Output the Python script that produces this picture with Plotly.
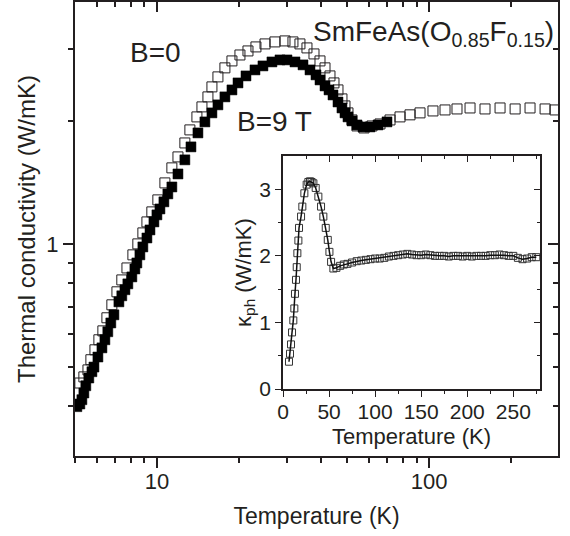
import plotly.graph_objects as go

# ---------------- data ----------------
# main panel, B = 0 (open squares)
T_B0 = [5.21, 5.39, 5.58, 5.72, 5.92, 6.12, 6.33, 6.55, 6.83, 7.13, 7.43, 7.76, 8.16, 8.51, 8.88,
        9.19, 9.58, 10.08, 10.70, 11.35, 11.95, 12.67, 13.22, 14.03, 14.64, 15.40, 15.93, 16.76,
        17.78, 18.87, 20.19, 21.61, 23.12, 24.96, 27.15, 29.56, 31.62, 33.55, 35.60, 37.78, 39.75,
        41.47, 43.25, 44.74, 46.28, 47.87, 49.11, 50.37, 52.11, 54.36, 57.68, 61.71, 66.05, 71.89,
        78.23, 85.14, 92.67, 103.4, 114.5, 126.7, 141.5, 160.6, 182.4, 207.2, 235.1, 267.0, 290.5]
k_B0 = [0.456, 0.472, 0.491, 0.520, 0.550, 0.582, 0.612, 0.659, 0.709, 0.763, 0.816, 0.873, 0.940,
        1.000, 1.064, 1.132, 1.198, 1.282, 1.411, 1.536, 1.634, 1.768, 1.903, 2.048, 2.167, 2.293,
        2.426, 2.567, 2.701, 2.809, 2.905, 2.972, 3.040, 3.092, 3.127, 3.145, 3.127, 3.092, 3.023,
        2.922, 2.809, 2.701, 2.581, 2.481, 2.385, 2.267, 2.179, 2.095, 2.013, 1.946, 1.924, 1.946,
        1.968, 2.013, 2.048, 2.072, 2.095, 2.118, 2.130, 2.142, 2.154, 2.142, 2.154, 2.142, 2.154,
        2.142, 2.130]

# main panel, B = 9 T (filled squares)
T_B9 = [5.08, 5.21, 5.30, 5.39, 5.48, 5.62, 5.77, 5.87, 6.07, 6.28, 6.44, 6.60, 6.77, 6.95, 7.25,
        7.43, 7.63, 7.82, 8.09, 8.30, 8.44, 8.66, 8.88, 9.19, 9.43, 9.75, 10.0, 10.26, 10.61, 10.97,
        11.35, 11.95, 12.67, 13.34, 14.15, 15.01, 15.93, 16.76, 17.78, 18.87, 19.86, 21.25, 22.93,
        24.53, 26.47, 28.33, 30.06, 32.17, 34.43, 36.52, 38.42, 39.75, 41.47, 42.90, 44.37, 46.28,
        47.87, 49.11, 50.37, 52.11, 54.36, 57.20, 60.68, 64.94, 70.07]
k_B9 = [0.399, 0.405, 0.415, 0.431, 0.449, 0.469, 0.486, 0.499, 0.528, 0.556, 0.582, 0.609, 0.640,
        0.670, 0.721, 0.746, 0.772, 0.798, 0.830, 0.868, 0.898, 0.940, 0.983, 1.034, 1.082, 1.132,
        1.178, 1.218, 1.268, 1.326, 1.379, 1.484, 1.607, 1.729, 1.871, 1.991, 2.095, 2.192, 2.293,
        2.385, 2.481, 2.581, 2.670, 2.731, 2.793, 2.825, 2.825, 2.793, 2.747, 2.670, 2.596, 2.523,
        2.439, 2.385, 2.318, 2.228, 2.154, 2.095, 2.048, 2.002, 1.957, 1.935, 1.935, 1.957, 1.991]

# inset: phonon thermal conductivity (linear axes)
inset_T = [6.5, 7.6, 8.7, 9.8, 11.2, 12.3, 13.0, 14.1, 14.9, 15.6, 16.7, 17.4, 19.6, 21.0, 23.2,
           25.7, 27.5, 29.3, 31.0, 33.0, 35.5, 38.4, 41.3, 43.8, 46.4, 48.6, 50.4, 52.2, 54.7,
           58, 62, 66, 70, 75, 80, 85, 90, 95, 100, 105, 110, 115, 120, 125, 130, 135, 140, 145,
           150, 155, 160, 165, 170, 175, 180, 185, 190, 195, 200, 205, 210, 215, 220, 225, 230,
           235, 240, 245, 250, 255, 260, 265, 270, 275]
inset_k = [0.41, 0.53, 0.67, 0.85, 1.03, 1.21, 1.43, 1.64, 1.83, 2.04, 2.23, 2.42, 2.59, 2.74, 2.94,
           3.07, 3.11, 3.12, 3.11, 3.09, 3.02, 2.89, 2.74, 2.59, 2.42, 2.24, 2.06, 1.91, 1.81,
           1.82, 1.85, 1.87, 1.88, 1.90, 1.92, 1.93, 1.94, 1.95, 1.96, 1.96, 1.97, 1.99, 2.00, 2.01,
           2.02, 2.03, 2.02, 2.01, 2.01, 2.02, 2.01, 2.00, 2.00, 2.00, 1.99, 2.00, 2.00, 1.99, 2.00,
           1.99, 2.00, 2.00, 2.00, 2.01, 2.01, 2.02, 2.01, 2.00, 2.00, 1.97, 1.95, 1.96, 1.98, 1.98]

# tick values
x_major = [10, 100]
x_minor = [5, 6, 7, 8, 9, 20, 30, 40, 50, 60, 70, 80, 90, 200, 300]
y_major = [1]
y_minor = [0.3, 0.4, 0.5, 0.6, 0.7, 0.8, 0.9, 2, 3]
ins_x_major = [0, 50, 100, 150, 200, 250]
ins_x_minor = [25, 75, 125, 175, 225, 275]
ins_y_major = [0, 1, 2, 3]
ins_y_minor = [0.5, 1.5, 2.5]

# ---------------- figure ----------------
FONT = "Arial, 'Liberation Sans', Helvetica, sans-serif"
INK = "#231f20"
W, H = 570, 536
ML, MR, MT, MB = 75, 12, 2, 80

XR = [0.699, 2.474]
YR = [-0.52, 0.593]

fig = go.Figure()

fig.add_trace(go.Scatter(
    x=T_B0, y=k_B0, mode="markers", name="B=0",
    marker=dict(symbol="square-open", size=10, color=INK, line=dict(width=1, color=INK)),
    xaxis="x", yaxis="y", showlegend=False))
fig.add_trace(go.Scatter(
    x=T_B9, y=k_B9, mode="markers", name="B=9 T",
    marker=dict(symbol="square", size=10, color="#000000", line=dict(width=0.5, color="#000")),
    xaxis="x", yaxis="y", showlegend=False))

# inset
fig.add_trace(go.Scatter(
    x=inset_T, y=inset_k, mode="markers",
    marker=dict(symbol="square-open", size=7, color="#333333", line=dict(width=1)),
    xaxis="x2", yaxis="y2", showlegend=False))
fig.add_trace(go.Scatter(
    x=inset_T, y=inset_k, mode="lines",
    line=dict(color="#111111", width=1.5),
    xaxis="x2", yaxis="y2", showlegend=False))

# empty helper traces so mirror axes are drawn
fig.add_trace(go.Scatter(x=[], y=[], xaxis="x3", yaxis="y", showlegend=False))
fig.add_trace(go.Scatter(x=[], y=[], xaxis="x", yaxis="y3", showlegend=False))
fig.add_trace(go.Scatter(x=[], y=[], xaxis="x4", yaxis="y2", showlegend=False))
fig.add_trace(go.Scatter(x=[], y=[], xaxis="x2", yaxis="y4", showlegend=False))

axcommon = dict(showline=True, linecolor=INK, linewidth=2, showgrid=False, zeroline=False,
                tickcolor=INK, tickwidth=1.5, tickfont=dict(family=FONT, size=22, color=INK))

fig.update_layout(
    width=W, height=H,
    margin=dict(l=ML, r=MR, t=MT, b=MB),
    paper_bgcolor="white", plot_bgcolor="white",
    font=dict(family=FONT, color=INK),
    xaxis=dict(type="log", range=XR, tickmode="array", tickvals=x_major, ticktext=["10", "100"],
               ticks="outside", ticklen=10, ticklabelstandoff=-5,
               minor=dict(tickmode="array", tickvals=x_minor, ticks="outside", ticklen=5,
                          tickcolor=INK, tickwidth=1.5),
               title=dict(text="Temperature (K)", font=dict(family=FONT, size=23, color=INK), standoff=14),
               anchor="y", **axcommon),
    yaxis=dict(type="log", range=YR, tickmode="array", tickvals=y_major, ticktext=["1"],
               ticks="outside", ticklen=10,
               minor=dict(tickmode="array", tickvals=y_minor, ticks="outside", ticklen=5,
                          tickcolor=INK, tickwidth=1.5),
               title=dict(text="Thermal conductivity (W/mK)", font=dict(family=FONT, size=24, color=INK), standoff=4),
               anchor="x", **axcommon),
    xaxis3=dict(type="log", range=XR, overlaying="x", side="top", anchor="y",
                tickmode="array", tickvals=x_major, ticks="inside", ticklen=10, showticklabels=False,
                minor=dict(tickmode="array", tickvals=x_minor, ticks="inside", ticklen=5,
                           tickcolor=INK, tickwidth=1.5),
                **axcommon),
    yaxis3=dict(type="log", range=YR, overlaying="y", side="right", anchor="x",
                tickmode="array", tickvals=y_major, ticks="inside", ticklen=10, showticklabels=False,
                minor=dict(tickmode="array", tickvals=y_minor, ticks="inside", ticklen=5,
                           tickcolor=INK, tickwidth=1.5),
                **axcommon),
)

# inset axes
IX = [(283 - ML) / (W - ML - MR), (540 - ML) / (W - ML - MR)]
IY = [(H - MB - 389) / (H - MT - MB), (H - MB - 156) / (H - MT - MB)]
inscommon = dict(showline=True, linecolor=INK, linewidth=1.5, showgrid=False, zeroline=False,
                 tickcolor=INK, tickwidth=1.2, tickfont=dict(family=FONT, size=21, color=INK))
fig.update_layout(
    xaxis2=dict(domain=IX, anchor="y2", range=[0, 279], tickmode="array", tickvals=ins_x_major,
                ticks="outside", ticklen=6, ticklabelstandoff=-3,
                minor=dict(tickmode="array", tickvals=ins_x_minor, ticks="outside", ticklen=3,
                           tickcolor=INK, tickwidth=1.2),
                title=dict(text="Temperature (K)", font=dict(family=FONT, size=22, color=INK), standoff=7),
                **inscommon),
    yaxis2=dict(domain=IY, anchor="x2", range=[0, 3.5], tickmode="array", tickvals=ins_y_major,
                ticks="outside", ticklen=6,
                minor=dict(tickmode="array", tickvals=ins_y_minor, ticks="outside", ticklen=3,
                           tickcolor=INK, tickwidth=1.2),
                title=dict(text="κ<sub>ph</sub> (W/mK)", font=dict(family=FONT, size=22, color=INK), standoff=2),
                **inscommon),
    xaxis4=dict(range=[0, 279], overlaying="x2", side="top", anchor="y2", tickmode="array",
                tickvals=ins_x_major, ticks="inside", ticklen=6, showticklabels=False,
                minor=dict(tickmode="array", tickvals=ins_x_minor, ticks="inside", ticklen=3,
                           tickcolor=INK, tickwidth=1.2),
                **inscommon),
    yaxis4=dict(range=[0, 3.5], overlaying="y2", side="right", anchor="x2", tickmode="array",
                tickvals=ins_y_major, ticks="inside", ticklen=6, showticklabels=False,
                minor=dict(tickmode="array", tickvals=ins_y_minor, ticks="inside", ticklen=3,
                           tickcolor=INK, tickwidth=1.2),
                **inscommon),
)

PW, PH = W - ML - MR, H - MT - MB
def px(xp):
    return (xp - ML) / PW
def py(yp):
    return (H - MB - yp) / PH

fig.add_annotation(text="B=0", x=px(155), y=py(53), xref="paper", yref="paper",
                   xanchor="center", yanchor="middle",
                   showarrow=False, font=dict(family=FONT, size=28, color=INK))
fig.add_annotation(text="B=9 T", x=px(274), y=py(122), xref="paper", yref="paper",
                   xanchor="center", yanchor="middle",
                   showarrow=False, font=dict(family=FONT, size=28, color=INK))
fig.add_annotation(text="SmFeAs(O<sub>0.85</sub>F<sub>0.15</sub>)", x=px(556), y=py(14),
                   xref="paper", yref="paper", xanchor="right", yanchor="top",
                   showarrow=False, font=dict(family=FONT, size=28, color=INK))

fig.write_html("out.html")
